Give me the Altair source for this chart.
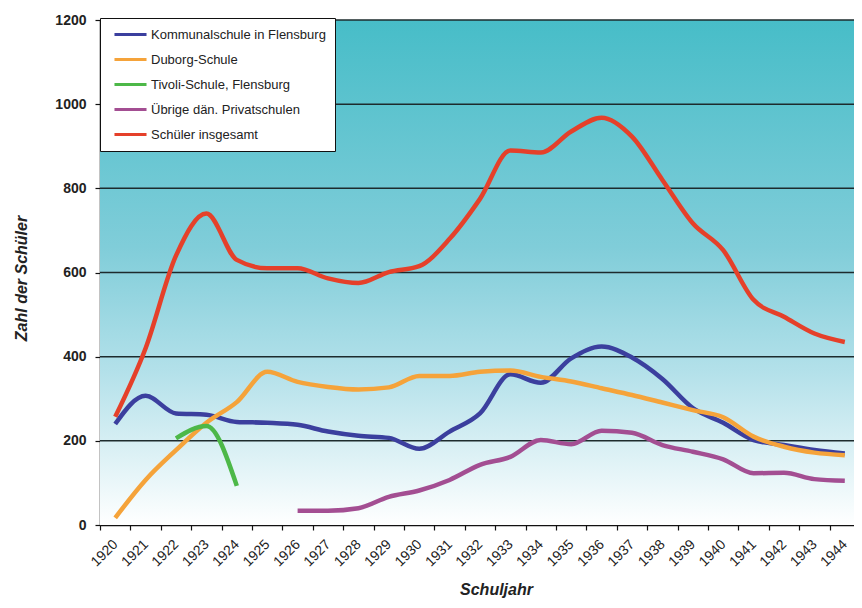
import altair as alt
import pandas as pd

years = list(range(1920, 1945))
kommunal = [240, 307, 265, 262, 245, 243, 238, 222, 212, 207, 181, 222, 265, 358, 338,
            396, 424, 398, 347, 278, 243, 202, 190, 178, 170]
duborg = [17, 107, 178, 243, 292, 364, 340, 328, 322, 327, 354, 354, 364, 367, 352,
          341, 325, 309, 291, 273, 256, 210, 186, 172, 166]
tivoli = [None, None, 206, 235, 93] + [None] * 20
uebrige = [None] * 6 + [34, 34, 40, 67, 82, 107, 143, 162, 202, 192, 224, 219, 190,
                        174, 156, 123, 124, 109, 105]
insgesamt = [257, 420, 640, 740, 630, 610, 610, 586, 575, 601, 615, 680, 775, 890, 885,
             935, 968, 923, 820, 717, 653, 535, 495, 455, 435]

series_names = ["Kommunalschule in Flensburg", "Duborg-Schule", "Tivoli-Schule, Flensburg",
                "Übrige dän. Privatschulen", "Schüler insgesamt"]
series_colors = ["#3b3f9e", "#f5a33a", "#4db848", "#a34e92", "#e5402a"]
y_ticks = [0, 200, 400, 600, 800, 1000, 1200]

rows = []
for name, vals in zip(series_names, [kommunal, duborg, tivoli, uebrige, insgesamt]):
    for yr, v in zip(years, vals):
        if v is not None:
            rows.append({"Schuljahr": str(yr), "Zahl": v, "Serie": name, "order": series_names.index(name)})
df = pd.DataFrame(rows)
grid_df = pd.DataFrame({"v": y_ticks[1:]})

FONT = "Liberation Sans, Arial, Helvetica, sans-serif"

y_axis = alt.Axis(values=y_ticks, format="d", grid=False, domainColor="#111", domainWidth=1.5,
                  tickColor="#111", tickSize=5, tickWidth=1.2, labelFont=FONT,
                  labelFontSize=14, labelFontWeight="bold", labelColor="#222",
                  labelPadding=9, title="Zahl der Schüler", titleFont=FONT,
                  titleFontSize=16, titleFontWeight="bold", titleFontStyle="italic",
                  titleColor="#222", titleX=-79, titleY=258, titleAngle=-90,
                  titleAlign="center", titleBaseline="middle")
y_scale = alt.Scale(domain=[0, 1200], nice=False)

bg = alt.Chart(pd.DataFrame({"a": [1]})).mark_rect(
    color=alt.LinearGradient(
        gradient="linear", x1=0, x2=0, y1=0, y2=1,
        stops=[alt.GradientStop(offset=0, color="#47bdc8"),
               alt.GradientStop(offset=0.45, color="#80cdd9"),
               alt.GradientStop(offset=0.7, color="#b4e1ea"),
               alt.GradientStop(offset=0.9, color="#e6f5f8"),
               alt.GradientStop(offset=1, color="#ffffff")])
).encode(x=alt.value(0), x2=alt.value("width"), y=alt.value(0), y2=alt.value("height"))

grid = alt.Chart(grid_df).mark_rule(color="#1d2b2d", strokeWidth=1.5).encode(
    y=alt.Y("v:Q", scale=y_scale, axis=y_axis)
)

lines = alt.Chart(df).mark_line(strokeWidth=4.5, interpolate="monotone").encode(
    x=alt.X("Schuljahr:O", bandPosition=0.5,
            scale=alt.Scale(type="band", paddingInner=0, paddingOuter=0,
                            domain=[str(y) for y in years], range=[0, 760]),
            axis=alt.Axis(tickBand="extent", labelAngle=-45, labelAlign="right",
                          labelBaseline="middle", labelFont=FONT, labelFontSize=14,
                          labelColor="#222", labelPadding=12, domainColor="#111",
                          domainWidth=1.5, tickColor="#111", tickSize=5, tickWidth=1.2,
                          title="Schuljahr", titleFont=FONT, titleFontSize=16,
                          titleFontWeight="bold", titleFontStyle="italic", titleColor="#222",
                          titleX=396, titleY=64, titleAlign="center", titleBaseline="middle")),
    y=alt.Y("Zahl:Q", scale=y_scale, axis=y_axis),
    color=alt.Color("Serie:N", scale=alt.Scale(domain=series_names, range=series_colors),
                    legend=alt.Legend(title=None, orient="none", legendX=0, legendY=-2,
                                      fillColor="white", strokeColor="#111", padding=9,
                                      symbolType="M-2.67,0H2.67", symbolSize=144,
                                      symbolOffset=14, symbolStrokeWidth=3,
                                      labelFont=FONT, labelFontSize=13,
                                      labelColor="#222", rowPadding=10, labelOffset=13,
                                      labelLimit=400)),
    order="order:Q",
    detail="Serie:N",
)

chart = alt.layer(bg, grid, lines).properties(
    width=754, height=505,
    autosize=alt.AutoSizeParams(type="none"),
    padding={"left": 92, "top": 12, "right": 0, "bottom": 73},
).configure_view(stroke=None).configure(background="white")

chart.save("out.html", embed_options={"renderer": "svg", "actions": False})
